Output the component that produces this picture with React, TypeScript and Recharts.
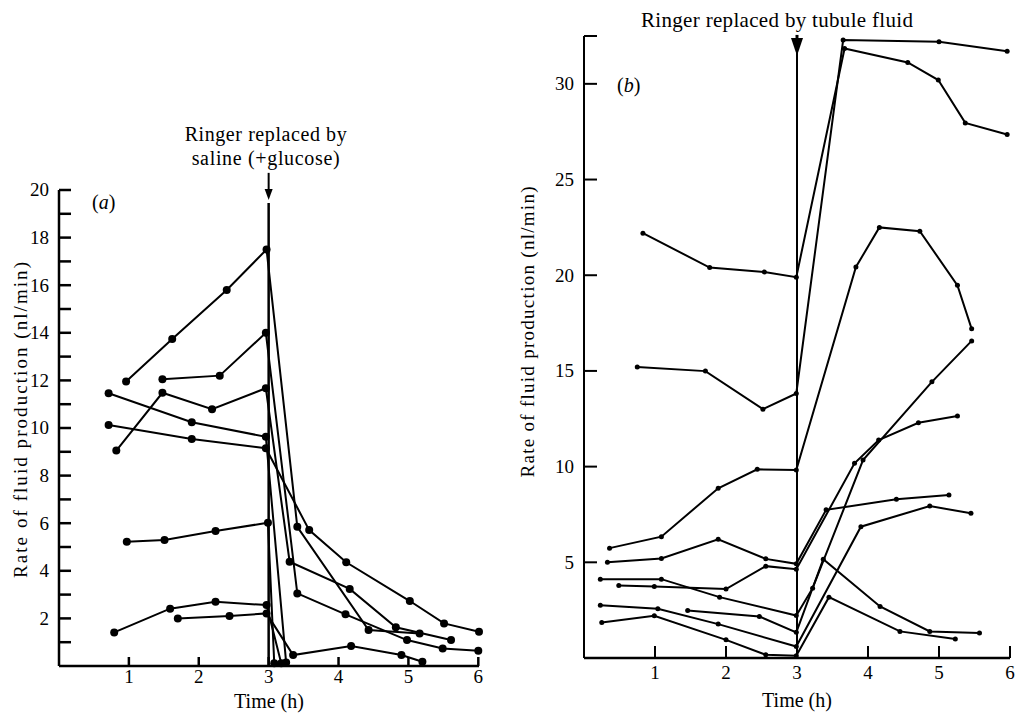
import React from 'react';
import { LineChart, Line, XAxis, YAxis, ReferenceLine, Label } from 'recharts';

const FONT = '"Liberation Serif", "Times New Roman", Times, serif';

// ---------- text ----------
const timeLabel = 'Time (h)';
const rateLabel = 'Rate of fluid production (nl/min)';
const noteA1 = 'Ringer replaced by';
const noteA2 = 'saline (+glucose)';
const noteB = 'Ringer replaced by tubule fluid';
const panelALetter = 'a';
const panelBLetter = 'b';

// ---------- ticks ----------
const xTicks = [1, 2, 3, 4, 5, 6];
const yTicksA = [1, 2, 3, 4, 5, 6, 7, 8, 9, 10, 11, 12, 13, 14, 15, 16, 17, 18, 19, 20];
const yLabelsA = [2, 4, 6, 8, 10, 12, 14, 16, 18, 20];
const yTicksB = [5, 10, 15, 20, 25, 30, 32.5];
const yLabelsB = [5, 10, 15, 20, 25, 30];
const switchTime = 3;

// ---------- panel (a) series: time (h), rate (nl/min) ----------
const a1T = [0.96, 1.62, 2.4, 2.97, 3.41, 4.43, 5.16];
const a1V = [11.95, 13.74, 15.8, 17.5, 5.85, 1.51, 1.37];
const a2T = [1.48, 2.3, 2.96, 3.41, 4.1, 4.98, 5.49, 6.0];
const a2V = [12.05, 12.2, 14.0, 3.05, 2.17, 1.09, 0.74, 0.64];
const a3T = [0.82, 1.48, 2.19, 2.96, 3.3, 4.16, 4.82, 5.61];
const a3V = [9.05, 11.48, 10.79, 11.67, 4.38, 3.24, 1.63, 1.09];
const a4T = [0.71, 1.9, 2.96, 3.25];
const a4V = [11.46, 10.24, 9.63, 0.15];
const a5T = [0.71, 1.9, 2.96, 3.58, 4.11, 5.02, 5.51, 6.01];
const a5V = [10.13, 9.54, 9.15, 5.71, 4.36, 2.73, 1.79, 1.44];
const a6T = [0.97, 1.51, 2.24, 2.99, 3.08];
const a6V = [5.22, 5.29, 5.67, 6.02, 0.12];
const a7T = [0.79, 1.59, 2.24, 2.97, 3.18];
const a7V = [1.41, 2.41, 2.7, 2.56, 0.12];
const a8T = [1.7, 2.44, 2.97, 3.35, 4.18, 4.9, 5.2];
const a8V = [2.0, 2.1, 2.21, 0.46, 0.84, 0.46, 0.18];

// ---------- panel (b) series ----------
const b1T = [0.83, 1.77, 2.54, 2.99, 3.67, 4.56, 4.99, 5.37, 5.96];
const b1V = [22.2, 20.4, 20.17, 19.9, 31.85, 31.12, 30.2, 27.96, 27.35];
const b2T = [0.75, 1.71, 2.52, 2.99, 3.65, 5.0, 5.96];
const b2V = [15.2, 14.99, 13.0, 13.82, 32.29, 32.2, 31.7];
const b3T = [0.36, 1.09, 1.89, 2.44, 2.99, 3.83, 4.16, 4.73, 5.26, 5.46];
const b3V = [5.74, 6.34, 8.87, 9.86, 9.82, 20.43, 22.5, 22.3, 19.47, 17.2];
const b4T = [0.33, 1.09, 1.89, 2.56, 2.99, 3.41, 4.4, 5.14];
const b4V = [5.0, 5.2, 6.2, 5.18, 4.92, 7.74, 8.29, 8.52];
const b5T = [0.23, 1.09, 1.91, 2.99, 3.22, 3.93, 4.9, 5.46];
const b5V = [4.12, 4.12, 3.18, 2.22, 3.65, 10.34, 14.43, 16.57];
const b6T = [0.49, 0.99, 2.0, 2.56, 2.99, 3.81, 4.15, 4.71, 5.26];
const b6V = [3.79, 3.74, 3.6, 4.8, 4.64, 10.17, 11.39, 12.29, 12.64];
const b7T = [0.23, 1.04, 1.89, 2.99, 3.9, 4.87, 5.45];
const b7V = [2.75, 2.57, 1.77, 0.6, 6.86, 7.94, 7.56];
const b8T = [1.46, 2.47, 2.99, 3.37, 4.17, 4.87, 5.57];
const b8V = [2.48, 2.17, 1.34, 5.16, 2.69, 1.39, 1.3];
const b9T = [0.25, 0.99, 2.0, 2.56, 2.99, 3.45, 4.45, 5.23];
const b9V = [1.86, 2.21, 0.95, 0.17, 0.12, 3.18, 1.39, 0.99];

const zip = (t: number[], v: number[]) => t.map((x, i) => ({ t: x, v: v[i] }));

const seriesA = [
  zip(a1T, a1V), zip(a2T, a2V), zip(a3T, a3V), zip(a4T, a4V),
  zip(a5T, a5V), zip(a6T, a6V), zip(a7T, a7V), zip(a8T, a8V),
];
const seriesB = [
  zip(b1T, b1V), zip(b2T, b2V), zip(b3T, b3V), zip(b4T, b4V), zip(b5T, b5V),
  zip(b6T, b6V), zip(b7T, b7V), zip(b8T, b8V), zip(b9T, b9V),
];

// ---------- custom ticks (drawn inward, like the original) ----------
const YTickA = (p: any) => {
  const { x, y, payload } = p;
  const v = payload.value;
  return (
    <g>
      <line x1={x} x2={x + 12} y1={y} y2={y} stroke="#000" strokeWidth={2.5} />
      {yLabelsA.includes(v) && (
        <text x={x - 10} y={y} dy="0.34em" textAnchor="end" fontFamily={FONT} fontSize={19} fill="#000">
          {v}
        </text>
      )}
    </g>
  );
};

const YTickB = (p: any) => {
  const { x, y, payload } = p;
  const v = payload.value;
  return (
    <g>
      <line x1={x} x2={x + 13} y1={y} y2={y} stroke="#000" strokeWidth={2} />
      {yLabelsB.includes(v) && (
        <text x={x - 10} y={y} dy="0.34em" textAnchor="end" fontFamily={FONT} fontSize={19} fill="#000">
          {v}
        </text>
      )}
    </g>
  );
};

const makeXTick = (len: number, sw: number, dy: number) => (p: any) => {
  const { x, y, payload } = p;
  return (
    <g>
      <line x1={x} x2={x} y1={y} y2={y - len} stroke="#000" strokeWidth={sw} />
      <text x={x} y={y + dy} textAnchor="middle" fontFamily={FONT} fontSize={19} fill="#000">
        {payload.value}
      </text>
    </g>
  );
};
const XTickA = makeXTick(9, 2.5, 17);
const XTickB = makeXTick(12, 2, 21);

// ---------- axis labels ----------
const yAxisLabel = (dxFromLeft: number, dyFromCenter: number, len: number) => (p: any) => {
  const vb = p.viewBox || {};
  if (vb.x === undefined) return null;
  const cx = vb.x + dxFromLeft;
  const cy = vb.y + vb.height / 2 + dyFromCenter;
  return (
    <text
      x={cx}
      y={cy}
      transform={`rotate(-90 ${cx} ${cy})`}
      textAnchor="middle"
      dy="0.32em"
      fontFamily={FONT}
      fontSize={19}
      textLength={len}
      lengthAdjust="spacing"
      fill="#000"
    >
      {rateLabel}
    </text>
  );
};

const xAxisLabel = (baselineFromTop: number) => (p: any) => {
  const vb = p.viewBox || {};
  if (vb.x === undefined) return null;
  return (
    <text x={vb.x + vb.width / 2} y={vb.y + baselineFromTop} textAnchor="middle" fontFamily={FONT} fontSize={20} fill="#000">
      {timeLabel}
    </text>
  );
};

// ---------- arrows / notes ----------
const arrowA = (p: any) => {
  const x = p.x1;
  const top = Math.min(p.y1, p.y2);
  const bot = Math.max(p.y1, p.y2);
  return (
    <g>
      <line x1={x} x2={x} y1={top} y2={bot - 8} stroke="#000" strokeWidth={2} />
      <polygon points={`${x - 4},${bot - 11} ${x + 4},${bot - 11} ${x},${bot}`} fill="#000" />
      <text x={x - 3} y={top - 32} textAnchor="middle" fontFamily={FONT} fontSize={20} textLength={162} lengthAdjust="spacing" fill="#000">
        {noteA1}
      </text>
      <text x={x - 3} y={top - 8} textAnchor="middle" fontFamily={FONT} fontSize={20} textLength={148} lengthAdjust="spacing" fill="#000">
        {noteA2}
      </text>
    </g>
  );
};

const arrowB = (p: any) => {
  const x = p.x1;
  const top = Math.min(p.y1, p.y2);
  const bot = Math.max(p.y1, p.y2);
  return (
    <g>
      <polygon points={`${x - 6},${top} ${x + 6},${top} ${x},${bot}`} fill="#000" />
      <line x1={x} x2={x} y1={top - 3} y2={top} stroke="#000" strokeWidth={3} />
      <text x={x - 20} y={top - 11} textAnchor="middle" fontFamily={FONT} fontSize={21} textLength={272} lengthAdjust="spacing" fill="#000">
        {noteB}
      </text>
    </g>
  );
};

export default function App() {
  return (
    <div style={{ position: 'absolute', left: 0, top: 0, width: 1025, height: 716, background: '#fff' }}>
      {/* Panel (a) */}
      <div style={{ position: 'absolute', left: 0, top: 0 }}>
        <LineChart width={500} height={716} margin={{ top: 190, right: 21, bottom: 0, left: 0 }}>
          <XAxis
            type="number"
            dataKey="t"
            domain={[0, 6]}
            ticks={xTicks}
            interval={0}
            height={50}
            tickSize={0}
            tickMargin={0}
            tickLine={false}
            axisLine={{ stroke: '#000', strokeWidth: 2.5 }}
            tick={XTickA}
          >
            <Label content={xAxisLabel(42)} />
          </XAxis>
          <YAxis
            type="number"
            domain={[0, 20]}
            ticks={yTicksA}
            interval={0}
            width={59}
            tickSize={0}
            tickMargin={0}
            tickLine={false}
            axisLine={{ stroke: '#000', strokeWidth: 2.5 }}
            tick={YTickA}
          >
            <Label content={yAxisLabel(21, -8, 316)} />
          </YAxis>
          <ReferenceLine
            segment={[{ x: switchTime, y: 0 }, { x: switchTime, y: 19.45 }]}
            stroke="#000"
            strokeWidth={2.5}
            ifOverflow="visible"
          />
          <ReferenceLine
            segment={[{ x: switchTime, y: 20.72 }, { x: switchTime, y: 19.58 }]}
            stroke="#000"
            ifOverflow="visible"
            shape={arrowA}
          />
          {seriesA.map((d, i) => (
            <Line
              key={'a' + i}
              data={d}
              dataKey="v"
              type="linear"
              stroke="#000"
              strokeWidth={2}
              dot={{ r: 4, fill: '#000', stroke: '#000', strokeWidth: 0 }}
              activeDot={false}
              isAnimationActive={false}
            />
          ))}
        </LineChart>
      </div>

      {/* Panel (b) */}
      <div style={{ position: 'absolute', left: 500, top: 0 }}>
        <LineChart width={525} height={716} margin={{ top: 36, right: 15, bottom: 0, left: 0 }}>
          <XAxis
            type="number"
            dataKey="t"
            domain={[0, 6]}
            ticks={xTicks}
            interval={0}
            height={58}
            tickSize={0}
            tickMargin={0}
            tickLine={false}
            axisLine={{ stroke: '#000', strokeWidth: 2.5 }}
            tick={XTickB}
          >
            <Label content={xAxisLabel(49)} />
          </XAxis>
          <YAxis
            type="number"
            domain={[0, 32.5]}
            ticks={yTicksB}
            interval={0}
            width={84}
            tickSize={0}
            tickMargin={0}
            tickLine={false}
            axisLine={{ stroke: '#000', strokeWidth: 2 }}
            tick={YTickB}
          >
            <Label content={yAxisLabel(28, -15, 291)} />
          </YAxis>
          <ReferenceLine
            segment={[{ x: switchTime, y: 0 }, { x: switchTime, y: 32.5 }]}
            stroke="#000"
            strokeWidth={2}
            ifOverflow="visible"
          />
          <ReferenceLine
            segment={[{ x: switchTime, y: 32.4 }, { x: switchTime, y: 31.47 }]}
            stroke="#000"
            ifOverflow="visible"
            shape={arrowB}
          />
          {seriesB.map((d, i) => (
            <Line
              key={'b' + i}
              data={d}
              dataKey="v"
              type="linear"
              stroke="#000"
              strokeWidth={2}
              dot={{ r: 2.5, fill: '#000', stroke: '#000', strokeWidth: 0 }}
              activeDot={false}
              isAnimationActive={false}
            />
          ))}
        </LineChart>
      </div>

      {/* panel letters */}
      <svg width={1025} height={716} style={{ position: 'absolute', left: 0, top: 0, pointerEvents: 'none' }}>
        <text x={92} y={209} fontFamily={FONT} fontSize={20} fill="#000">
          (<tspan fontStyle="italic">{panelALetter}</tspan>)
        </text>
        <text x={617} y={92} fontFamily={FONT} fontSize={20} fill="#000">
          (<tspan fontStyle="italic">{panelBLetter}</tspan>)
        </text>
      </svg>
    </div>
  );
}
